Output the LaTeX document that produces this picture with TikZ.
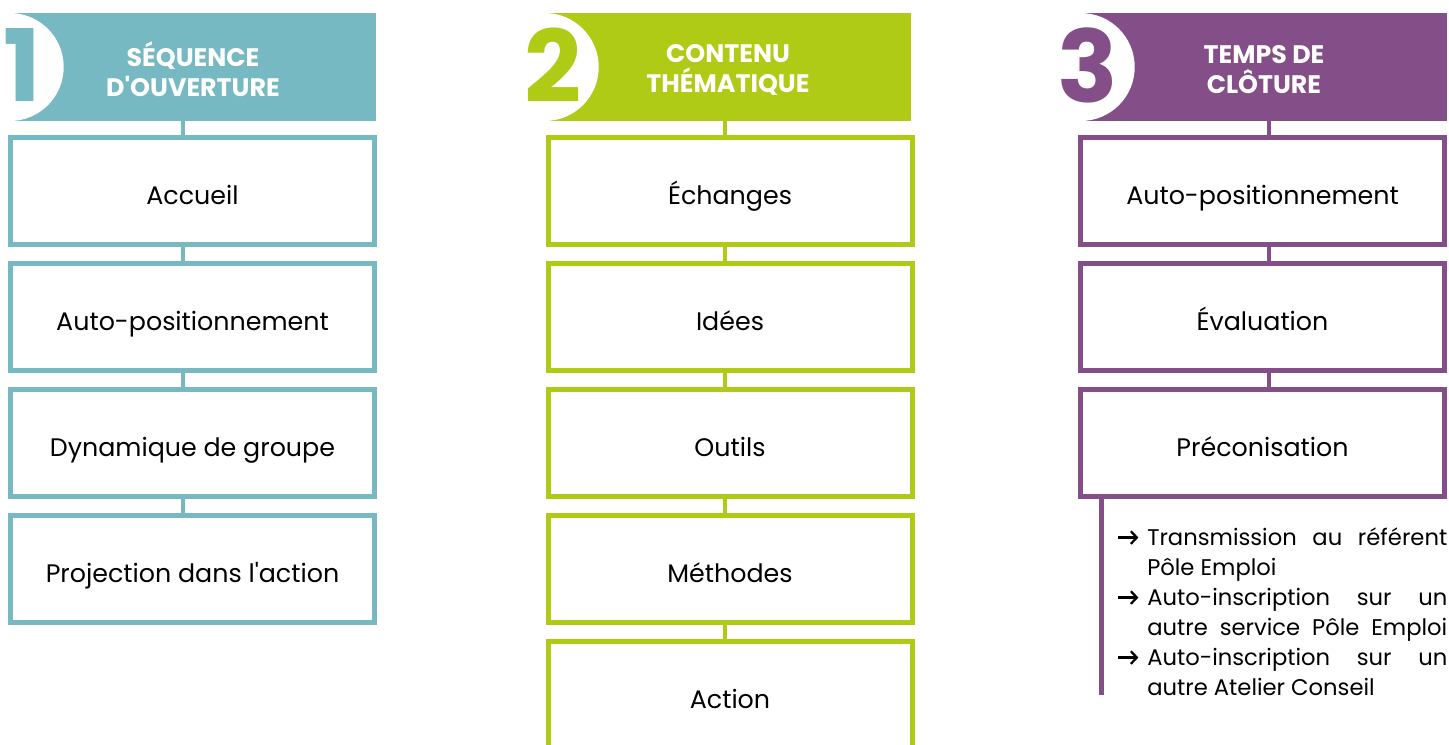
\documentclass[tikz,border=0pt]{standalone}
\usepackage{fontspec}
\setmainfont{Poppins}
\usetikzlibrary{calc, arrows.meta}
\definecolor{tealc}{RGB}{118,185,194}
\definecolor{greenc}{RGB}{175,203,22}
\definecolor{purplec}{RGB}{132,79,136}

\newcommand{\itemarrow}{\makebox[22.5pt][l]{\tikz[baseline=0pt, x=1pt, y=1pt]
    \draw[black, line width=1.7pt, -{Straight Barb[length=4.5pt, width=9.5pt]}] (0.5,5.6) -- (15.5,5.6);}}

\begin{document}
\begin{tikzpicture}[x=0.75pt, y=-0.75pt]
    % ================= styles =================
    \tikzset{
        % white box with a coloured frame
        stepbox/.style={draw=#1, line width=3.75pt, fill=white, minimum width=273pt, minimum height=80.25pt,
            inner sep=0pt, text height=19.5pt, text depth=0pt, font=\fontsize{19}{22}\selectfont},
        % coloured title bar and its title
        headbar/.style={fill=#1, minimum width=274.5pt, minimum height=81pt, inner sep=0pt},
        headtitle/.style={text=white, align=center, inner sep=0pt, font=\bfseries\fontsize{19}{22.5}\selectfont},
        % white disk holding the number
        numdisk/.style={circle, fill=white, minimum size=81pt, inner sep=0pt},
        bignum/.style={text=#1, font=\bfseries\fontsize{75}{75}\selectfont, inner sep=0pt},
        % vertical links between boxes
        link/.style={draw=#1, line width=3pt}
    }
    \useasboundingbox (0,0) rectangle (1449,744);

    % ================= column 1 =================
    \begin{scope}
        \node[headbar=tealc] (h1) at (193,67) {};
        \node[headtitle] (t1) at ($(h1.center)+(0,2.5)$) {SÉQUENCE\\D\textquotesingle OUVERTURE};
        \node[numdisk] (d1) at (h1.west) {};
        \node[bignum=tealc] (n1) at ($(d1.center)+(13,-2)$) {1};

        \foreach \i/\txt in {1/Accueil, 2/Auto-positionnement, 3/Dynamique de groupe, 4/Projection dans l\textquotesingle action} {
            \node[stepbox=tealc] (a\i) at (192.5, 65+126*\i) {\txt};
        }

        \draw[link=tealc] ([xshift=-7.5pt]a1.north) -- ([xshift=-7.5pt]a1.north |- h1.south);
        \foreach \i [count=\j from 2] in {1,2,3} {
            \draw[link=tealc] ([xshift=-7.5pt]a\i.south) -- ([xshift=-7.5pt]a\j.north);
        }
    \end{scope}

    % ================= column 2 =================
    \begin{scope}
        \node[headbar=greenc] (h2) at (728,67) {};
        \node[headtitle] (t2) at ($(h2.center)+(0,2.5)$) {CONTENU\\THÉMATIQUE};
        \node[numdisk] (d2) at (h2.west) {};
        \node[bignum=greenc] (n2) at ($(d2.center)+(8,-2)$) {2};

        \foreach \i/\txt in {1/Échanges, 2/Idées, 3/Outils, 4/Méthodes, 5/Action} {
            \node[stepbox=greenc] (b\i) at (730, 65+126*\i) {\txt};
        }

        \draw[link=greenc] ([xshift=-3.75pt]b1.north) -- ([xshift=-3.75pt]b1.north |- h2.south);
        \foreach \i [count=\j from 2] in {1,2,3,4} {
            \draw[link=greenc] ([xshift=-3.75pt]b\i.south) -- ([xshift=-3.75pt]b\j.north);
        }
    \end{scope}

    % ================= column 3 =================
    \begin{scope}
        \node[headbar=purplec] (h3) at (1264,67) {};
        \node[headtitle] (t3) at ($(h3.center)+(0,2.5)$) {TEMPS DE\\CLÔTURE};
        \node[numdisk] (d3) at (h3.west) {};
        \node[bignum=purplec] (n3) at ($(d3.center)+(7,-2)$) {3};

        \foreach \i/\txt in {1/Auto-positionnement, 2/Évaluation, 3/Préconisation} {
            \node[stepbox=purplec] (c\i) at (1262.5, 65+126*\i) {\txt};
        }

        \draw[link=purplec] ([xshift=4.5pt]c1.north) -- ([xshift=4.5pt]c1.north |- h3.south);
        \foreach \i [count=\j from 2] in {1,2} {
            \draw[link=purplec] ([xshift=4.5pt]c\i.south) -- ([xshift=4.5pt]c\j.north);
        }

        % follow-up after the last box
        \coordinate (tail) at (1101,695);
        \draw[link=purplec, line width=3.75pt] (c3.south -| tail) -- (tail);
        \node[anchor=north west, text width=247.5pt, inner sep=0pt, align=justify,
              font=\fontsize{17}{22.5}\selectfont] (notes) at (1117,527) {%
            \hyphenpenalty=10000
            \hangindent=22.5pt\hangafter=1\noindent\itemarrow Transmission au référent\linebreak Pôle Emploi\par
            {\parfillskip=0pt
            \hangindent=22.5pt\hangafter=1\noindent\itemarrow Auto-inscription sur un\linebreak autre service Pôle Emploi\par}
            \hangindent=22.5pt\hangafter=1\noindent\itemarrow Auto-inscription sur un\linebreak autre Atelier Conseil\par};
    \end{scope}

\end{tikzpicture}
\end{document}
